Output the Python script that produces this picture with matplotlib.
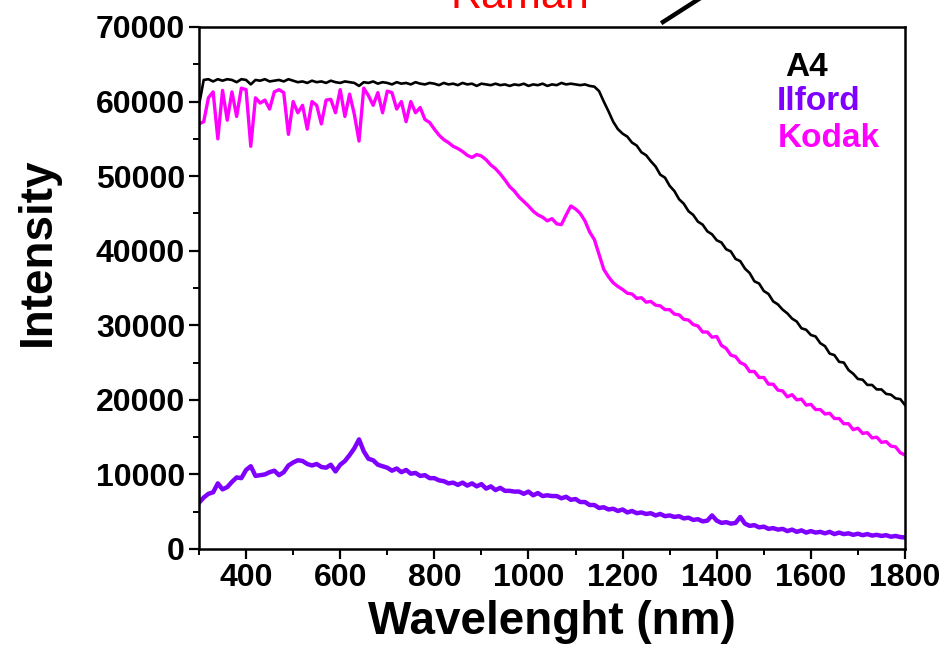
import matplotlib
matplotlib.use("Agg")
import matplotlib.pyplot as plt
from matplotlib.lines import Line2D
from matplotlib.ticker import MultipleLocator
import numpy as np

plt.rcParams["font.family"] = ["Liberation Sans", "DejaVu Sans"]

# wavelength grid (nm), one sample every 10 nm
wavelength = np.arange(300, 1801, 10)

a4 = [
    59500, 62900, 63000, 62700, 63000, 62800, 63000, 62900, 62600, 63000,
    62900, 62300, 62900, 62800, 63000, 62700, 62800, 62900, 62700, 63000,
    62800, 62600, 62700, 62500, 62800, 62600, 62700, 62500, 62800, 62600,
    62500, 62700, 62600, 62500, 62100, 62600, 62500, 62700, 62400, 62600,
    62500, 62300, 62600, 62400, 62500, 62300, 62600, 62400, 62300, 62500,
    62400, 62200, 62500, 62300, 62400, 62200, 62500, 62300, 62400, 62100,
    62400, 62300, 62200, 62400, 62200, 62300, 62100, 62300, 62200, 62400,
    62100, 62300, 62200, 62400, 62100, 62300, 62200, 62500, 62300, 62400,
    62300, 62200, 62300, 62100, 62000, 61400, 60000, 58700, 57300, 56300,
    55700, 55300, 54500, 54100, 53200, 52800, 52000, 51300, 50200, 49800,
    48700, 48000, 46900, 46300, 45300, 44800, 43900, 43500, 42600, 42200,
    41400, 41100, 40200, 39900, 38900, 38600, 37600, 37000, 35900, 35600,
    34600, 34200, 33200, 32800, 32100, 31600, 30900, 30500, 29600, 29400,
    28700, 28500, 27600, 27200, 26200, 26000, 25100, 25000, 24000, 23500,
    22800, 22700, 22000, 22000, 21400, 21400, 20800, 20700, 20200, 20100,
    19300,
]

ilford = [
    6200, 6900, 7400, 7600, 8800, 8000, 8300, 9000, 9600, 9500,
    10600, 11100, 9800, 9900, 10000, 10300, 10500, 9900, 10300, 11200,
    11600, 11900, 11800, 11400, 11200, 11400, 11000, 10900, 11300, 10400,
    11300, 11800, 12600, 13500, 14700, 13100, 12100, 11900, 11300, 11100,
    10900, 10500, 10800, 10300, 10600, 10100, 10200, 9800, 9900, 9500,
    9500, 9200, 9100, 8800, 8900, 8600, 8900, 8500, 8800, 8400,
    8700, 8100, 8400, 7900, 8200, 7800, 7800, 7700, 7700, 7400,
    7700, 7200, 7500, 7100, 7200, 7100, 7100, 6800, 7000, 6600,
    6700, 6300, 6300, 5900, 5900, 5500, 5600, 5300, 5400, 5100,
    5300, 4900, 5100, 4800, 4900, 4700, 4800, 4500, 4700, 4400,
    4500, 4300, 4400, 4100, 4200, 3900, 4000, 3700, 3800, 4500,
    3800, 3500, 3600, 3400, 3500, 4300, 3400, 3100, 3200, 2900,
    3000, 2700, 2800, 2600, 2700, 2400, 2600, 2300, 2500, 2200,
    2400, 2200, 2300, 2100, 2300, 2000, 2200, 2000, 2100, 1900,
    2050, 1850, 2000, 1800, 1900, 1750, 1850, 1650, 1750, 1600,
    1550,
]

kodak = [
    57000, 57300, 60500, 61300, 55000, 61500, 57500, 61300, 58000, 61800,
    61600, 54000, 60500, 59800, 60200, 59000, 61300, 61600, 61200, 55600,
    60000, 58500, 59500, 56300, 60000, 59500, 57000, 60200, 60300, 58500,
    61600, 58000, 61000, 58300, 54700, 61800, 60800, 59500, 61200, 58500,
    61400, 61200, 59000, 60000, 57300, 60000, 58500, 59200, 57600, 57200,
    56300, 55500, 54900, 54500, 54000, 53700, 53300, 52800, 52500, 52900,
    52700, 52200, 51500, 51000, 50300, 49500, 48600, 48000, 47200, 46600,
    46000, 45300, 44800, 44500, 44000, 44300, 43600, 43500, 44800, 46000,
    45600, 45000, 44000, 42500, 41500, 39500, 37500, 36500, 35700, 35200,
    34800, 34300, 34200, 33600, 33700, 33100, 33200, 32700, 32600, 32100,
    32100, 31500, 31400, 30800, 30700, 30100, 29900, 29100, 29100, 28400,
    28500, 27300, 26900, 26000, 25800, 25000, 24700, 23800, 23800, 23000,
    23000, 22100, 22100, 21300, 21200, 20400, 20700, 20000, 20100, 19300,
    19400, 18700, 18700, 18100, 18200, 17500, 17500, 16800, 16800, 16000,
    16200, 15500, 15600, 14900, 15000, 14300, 14400, 13800, 13700, 12900,
    12600,
]

series_names = ["A4", "Ilford", "Kodak"]
series_colors = ["black", "#7F00FF", "#FF00FF"]

W, H = 947, 658
fig = plt.figure(figsize=(W / 100, H / 100), dpi=100)
ax = fig.add_axes([199 / W, 1 - 549 / H, 706 / W, 522 / H])

ax.plot(wavelength, a4, color=series_colors[0], lw=1.9, zorder=3)
ax.plot(wavelength, kodak, color=series_colors[2], lw=2.4, zorder=2)
ax.plot(wavelength, ilford, color=series_colors[1], lw=3.2, zorder=2)

ax.set_xlim(300, 1800)
ax.set_ylim(0, 70000)
ax.xaxis.set_major_locator(MultipleLocator(200))
ax.xaxis.set_minor_locator(MultipleLocator(100))
ax.yaxis.set_major_locator(MultipleLocator(10000))
ax.yaxis.set_minor_locator(MultipleLocator(5000))
ax.tick_params(which="major", direction="out", length=7, width=1.6,
               labelsize=23, pad=3)
ax.tick_params(which="minor", direction="out", length=4, width=1.4)
for lbl in ax.get_xticklabels() + ax.get_yticklabels():
    lbl.set_fontweight("bold")
for s in ax.spines.values():
    s.set_linewidth(1.8)

ax.set_xlabel("Wavelenght (nm)", fontsize=33, fontweight="bold", labelpad=5)
ax.set_ylabel("Intensity", fontsize=33, fontweight="bold")
ax.yaxis.set_label_coords(-0.197, 0.57)

# series names in their colours, top right
ax.text(0.830, 0.906, series_names[0], transform=ax.transAxes, color=series_colors[0],
        fontsize=24, fontweight="bold", va="baseline")
ax.text(0.819, 0.841, series_names[1], transform=ax.transAxes, color=series_colors[1],
        fontsize=24, fontweight="bold", va="baseline")
ax.text(0.820, 0.770, series_names[2], transform=ax.transAxes, color=series_colors[2],
        fontsize=24, fontweight="bold", va="baseline")

# cut-off annotation above the frame
fig.text(450 / W, 1 - 8 / H, "Raman", color="red", fontsize=31, va="baseline")
fig.add_artist(Line2D([663 / W, 702 / W], [1 - 22 / H, 1 + 3 / H],
                      transform=fig.transFigure, color="black", lw=3.2))

fig.savefig("out.png", dpi=100)
